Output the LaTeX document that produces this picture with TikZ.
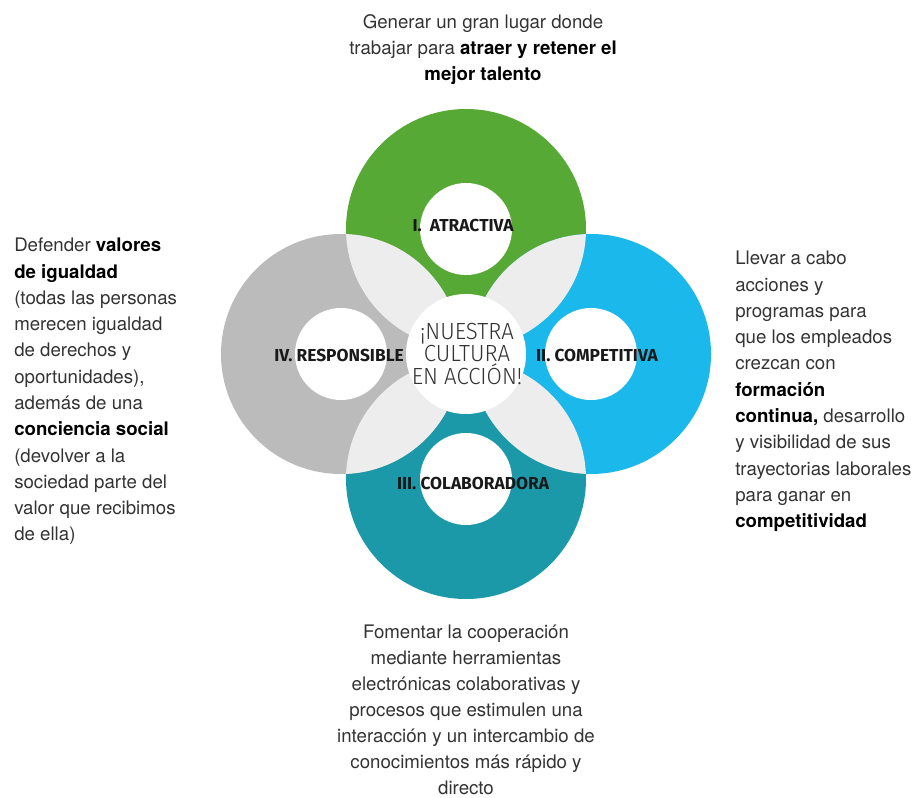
\documentclass[tikz,border=0pt]{standalone}
\usepackage{fontspec}
\setmainfont{TeX Gyre Heros}
\newfontfamily\tagfont{Fira Sans}
\newfontfamily\hubfont[FakeStretch=0.95]{Fira Sans Light}
\usetikzlibrary{positioning}
\definecolor{atrgreen}{HTML}{57A935}
\definecolor{comblue}{HTML}{1BB9EB}
\definecolor{colteal}{HTML}{1B99A9}
\definecolor{resgray}{HTML}{BBBBBB}
\definecolor{lensgray}{HTML}{EDEDED}
\definecolor{txtgray}{HTML}{333333}

\tikzset{
  tag/.style={font=\tagfont\bfseries\fontsize{13}{15}\selectfont, text=black!90, inner sep=0pt},
  hubtext/.style={font=\hubfont\fontsize{17.5}{17}\selectfont, text=txtgray, align=center, inner sep=0pt},
  body/.style={font=\fontsize{14}{19.7}\selectfont, text=txtgray, inner sep=0pt},
}

\begin{document}
\begin{tikzpicture}[x=0.75pt,y=-0.75pt]
\useasboundingbox (0,0) rectangle (917,798);
\coordinate (hub) at (466,354);
\coordinate (atr) at (466,229);
\coordinate (com) at (591,354);
\coordinate (col) at (466,479);
\coordinate (res) at (341,354);
\fill[atrgreen] (atr) circle (90pt);
\fill[comblue] (com) circle (90pt);
\fill[colteal] (col) circle (90pt);
\fill[resgray] (res) circle (90pt);
\foreach \a/\b in {atr/com,com/col,col/res,res/atr}{
  \begin{scope}
    \clip (\a) circle (90pt);
    \fill[lensgray] (\b) circle (90pt);
  \end{scope}
}
\foreach \c in {atr,com,col,res}
  \fill[white] (\c) circle (34.5pt);
\fill[white] (hub) circle (45pt);

\node[tag] (latr) at (463,225) {I.\ \ ATRACTIVA};
\node[tag] (lcom) at (597,355) {II. COMPETITIVA};
\node[tag] (lcol) at (473,483) {III. COLABORADORA};
\node[tag] (lres) at (339,355) {IV. RESPONSIBLE};
\node[hubtext] (centro) at (467,354) {¡NUESTRA\\CULTURA\\EN ACCIÓN!};

\node[body, align=center, anchor=north] (tatr) at (483,14)
  {Generar un gran lugar donde\\trabajar para \textbf{\color{black}atraer y retener el}\\\textbf{\color{black}mejor talento}};
\node[body, align=left, anchor=north west] (tres) at (14,238)
  {Defender \textbf{\color{black}valores}\\\textbf{\color{black}de igualdad}\\(todas las personas\\merecen igualdad\\de derechos y\\oportunidades),\\además de una\\\textbf{\color{black}conciencia social}\\(devolver a la\\sociedad parte del\\valor que recibimos\\de ella)};
\node[body, align=left, anchor=north west] (tcom) at (735,251)
  {Llevar a cabo\\acciones y\\programas para\\que los empleados\\crezcan con\\\textbf{\color{black}formación}\\\textbf{\color{black}continua,} desarrollo\\y visibilidad de sus\\trayectorias laborales\\para ganar en\\\textbf{\color{black}competitividad}};
\node[body, align=center, anchor=north, font=\fontsize{14}{19.5}\selectfont] (tcol) at (466,625)
  {Fomentar la cooperación\\mediante herramientas\\electrónicas colaborativas y\\procesos que estimulen una\\interacción y un intercambio de\\conocimientos más rápido y\\directo};
\end{tikzpicture}
\end{document}
